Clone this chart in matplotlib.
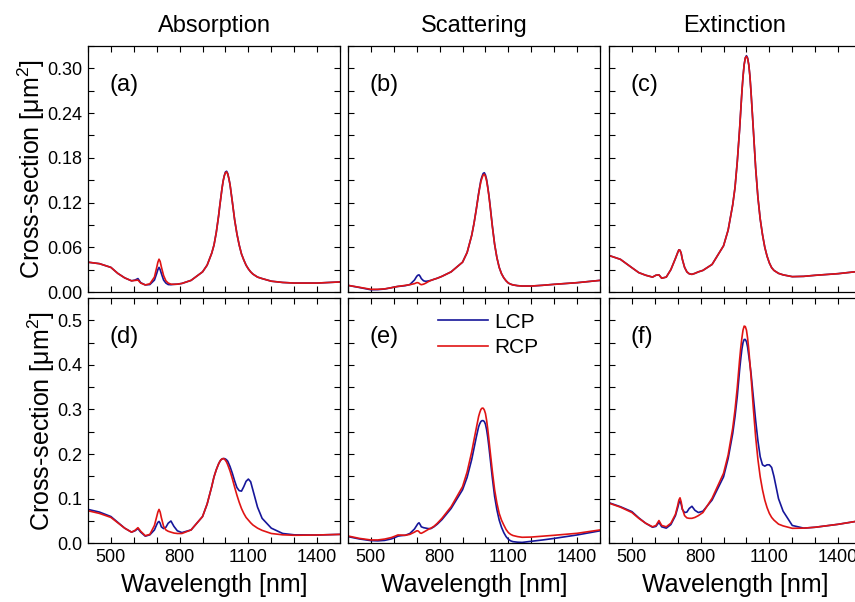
import matplotlib
matplotlib.use("Agg")
import matplotlib.pyplot as plt
from matplotlib.ticker import MultipleLocator

plt.rcParams['font.family'] = ['Liberation Sans', 'DejaVu Sans']
plt.rcParams['mathtext.fontset'] = 'custom'
plt.rcParams['mathtext.rm'] = 'Liberation Sans'

# ---------------- data ----------------
wavelength = [400, 450, 500, 530, 560, 590, 605, 618, 630, 650,
              670, 690, 700, 705, 710, 715, 720, 730, 740, 750,
              762, 775, 790, 810, 850, 900, 920, 940, 950, 960,
              970, 975, 980, 985, 990, 995, 1000, 1005, 1010, 1015,
              1020, 1030, 1040, 1050, 1060, 1070, 1080, 1090, 1100, 1110,
              1120, 1140, 1160, 1200, 1250, 1300, 1400, 1500]

abs1_lcp = [.040, .038, .033, .025, .019, .015, .016, .018, .0125, .0095,
            .010, .016, .025, .030, .033, .030, .025, .016, .012, .010,
            .0098, .0103, .0105, .0115, .0156, .027, .036, .052, .063, .080,
            .102, .115, .127, .139, .149, .156, .161, .162, .159, .152,
            .144, .121, .097, .078, .063, .051, .043, .036, .031, .027,
            .024, .020, .018, .0145, .0128, .012, .012, .0135]
abs1_rcp = [.040, .038, .033, .025, .019, .015, .0155, .016, .012, .0095,
            .011, .020, .033, .040, .044, .041, .034, .022, .015, .012,
            .0105, .0103, .0105, .0115, .0156, .027, .036, .052, .063, .080,
            .102, .115, .127, .139, .149, .156, .160, .161, .158, .152,
            .144, .121, .097, .078, .063, .051, .043, .036, .031, .027,
            .024, .020, .018, .0145, .0128, .012, .012, .0135]

sca1_lcp = [.0089, .0060, .0030, .0032, .0040, .0058, .0068, .0075, .0078, .0085,
            .010, .016, .021, .0225, .023, .021, .018, .015, .0143, .0148,
            .0156, .017, .0185, .021, .027, .040, .053, .076, .092, .111,
            .132, .141, .150, .155, .159, .160, .157, .151, .141, .130,
            .117, .089, .064, .046, .033, .0246, .019, .015, .012, .0105,
            .0095, .0085, .008, .008, .009, .0103, .0125, .0156]
sca1_rcp = [.0089, .0063, .0036, .0036, .0042, .0058, .0068, .0075, .008, .0089,
            .0098, .0112, .0125, .0125, .0118, .0105, .0098, .0105, .012, .0138,
            .0156, .017, .0185, .021, .027, .040, .053, .076, .092, .111,
            .131, .140, .148, .153, .157, .158, .155, .149, .140, .129,
            .116, .088, .064, .046, .033, .0246, .019, .015, .012, .0105,
            .0095, .0085, .008, .008, .009, .0103, .0125, .0156]

ext1_lcp = [.049, .0438, .0326, .026, .0225, .020, .0225, .023, .0185, .020,
            .030, .045, .053, .0565, .056, .052, .044, .033, .027, .0245,
            .0237, .025, .027, .029, .037, .062, .083, .117, .140, .175,
            .218, .243, .268, .289, .305, .314, .317, .314, .305, .290,
            .268, .218, .167, .127, .098, .077, .060, .048, .039, .0326,
            .029, .025, .023, .0206, .021, .0224, .0246, .028]
ext1_rcp = [.049, .0438, .0326, .026, .0225, .020, .0225, .023, .0185, .020,
            .030, .045, .053, .0565, .056, .052, .044, .033, .027, .0245,
            .0237, .025, .027, .029, .037, .062, .083, .117, .140, .175,
            .218, .243, .268, .289, .305, .314, .316, .313, .305, .290,
            .268, .218, .167, .127, .098, .077, .060, .048, .039, .0326,
            .029, .025, .023, .0206, .021, .0224, .0246, .028]

abs2_lcp = [.076, .070, .060, .047, .034, .025, .028, .033, .025, .016,
            .019, .030, .042, .047, .049, .045, .037, .033, .036, .045,
            .050, .038, .028, .024, .030, .060, .088, .127, .149, .165,
            .178, .183, .187, .189, .190, .190, .189, .187, .184, .178,
            .172, .157, .140, .125, .118, .117, .127, .139, .144, .138,
            .119, .081, .056, .034, .022, .019, .0186, .020]
abs2_rcp = [.073, .067, .058, .046, .034, .025, .029, .035, .027, .017,
            .020, .040, .060, .070, .076, .070, .058, .038, .030, .027,
            .025, .023, .022, .022, .030, .060, .088, .127, .149, .165,
            .178, .183, .187, .189, .190, .189, .186, .182, .176, .169,
            .162, .145, .126, .108, .092, .078, .067, .058, .052, .046,
            .041, .034, .029, .022, .019, .018, .0186, .020]

sca2_lcp = [.015, .0097, .006, .0055, .0065, .010, .013, .016, .017, .018,
            .022, .032, .040, .044, .046, .042, .037, .035, .034, .033,
            .033, .037, .043, .053, .078, .120, .148, .188, .213, .238,
            .261, .268, .273, .275, .275, .273, .267, .255, .238, .217,
            .194, .147, .105, .075, .052, .036, .024, .015, .009, .0055,
            .0037, .0025, .002, .0045, .0075, .011, .0187, .028]
sca2_rcp = [.0164, .011, .0075, .0075, .0095, .013, .016, .0187, .0185, .018,
            .020, .025, .028, .028, .026, .023, .0224, .025, .028, .031,
            .034, .038, .045, .056, .082, .127, .160, .205, .232, .258,
            .284, .293, .300, .303, .303, .299, .291, .276, .256, .233,
            .209, .162, .120, .090, .067, .052, .041, .031, .024, .020,
            .0175, .015, .0135, .014, .016, .018, .0224, .030]

ext2_lcp = [.091, .082, .071, .057, .045, .036, .038, .047, .037, .034,
            .042, .062, .080, .090, .095, .088, .076, .069, .070, .078,
            .083, .074, .069, .072, .097, .149, .190, .246, .284, .330,
            .388, .413, .435, .450, .457, .457, .452, .440, .421, .402,
            .381, .328, .276, .230, .194, .176, .173, .176, .176, .170,
            .150, .100, .072, .040, .034, .036, .0426, .051]
ext2_rcp = [.090, .081, .069, .056, .045, .037, .040, .051, .040, .037,
            .045, .065, .085, .097, .102, .093, .078, .062, .057, .056,
            .056, .058, .062, .069, .101, .157, .198, .258, .299, .350,
            .411, .438, .460, .478, .487, .486, .478, .460, .435, .405,
            .374, .303, .239, .188, .149, .120, .097, .080, .067, .058,
            .052, .043, .039, .0336, .034, .036, .0426, .051]

column_titles = ["Absorption", "Scattering", "Extinction"]
panel_labels = ["(a)", "(b)", "(c)", "(d)", "(e)", "(f)"]
series_names = ["LCP", "RCP"]
x_ticks = [500, 800, 1100, 1400]
top_yticks = [0.00, 0.06, 0.12, 0.18, 0.24, 0.30]
bottom_yticks = [0.0, 0.1, 0.2, 0.3, 0.4, 0.5]

panels = [(abs1_lcp, abs1_rcp), (sca1_lcp, sca1_rcp), (ext1_lcp, ext1_rcp),
          (abs2_lcp, abs2_rcp), (sca2_lcp, sca2_rcp), (ext2_lcp, ext2_rcp)]

# ---------------- layout ----------------
W, H = 855, 602
fig = plt.figure(figsize=(W / 100, H / 100), dpi=100)

col_left = [88, 348, 609]
col_w = 252
row_top = [46, 298]
row_h = [246, 245.3]

blue = '#16169a'
red = '#e01414'

for i, (lcp, rcp) in enumerate(panels):
    r, c = divmod(i, 3)
    ax = fig.add_axes([col_left[c] / W, 1 - (row_top[r] + row_h[r]) / H, col_w / W, row_h[r] / H])
    ax.plot(wavelength, lcp, color=blue, lw=1.2, label=series_names[0])
    ax.plot(wavelength, rcp, color=red, lw=1.2, label=series_names[1])
    ax.set_xlim(400, 1500)
    ax.set_xticks(x_ticks)
    ax.xaxis.set_minor_locator(MultipleLocator(100))
    if r == 0:
        ax.set_ylim(0, 0.33)
        ax.set_yticks(top_yticks)
        ax.yaxis.set_minor_locator(MultipleLocator(0.03))
        ax.set_yticklabels([f"{v:.2f}" for v in top_yticks])
        ax.set_xticklabels([])
        ax.set_title(column_titles[c], fontsize=17, pad=10)
    else:
        ax.set_ylim(0, 0.55)
        ax.set_yticks(bottom_yticks)
        ax.yaxis.set_minor_locator(MultipleLocator(0.05))
        ax.set_yticklabels([f"{v:.1f}" for v in bottom_yticks])
        ax.set_xticklabels([str(t) for t in x_ticks])
        ax.set_xlabel("Wavelength [nm]", fontsize=18, labelpad=5)
    if c != 0:
        ax.set_yticklabels([])
    else:
        ax.set_ylabel(r"Cross-section [μm$^{\mathregular{2}}$]", fontsize=18, labelpad=0)
    ax.tick_params(which='both', direction='in', top=True, right=True, labelsize=13, pad=4, width=0.8)
    ax.tick_params(which='major', length=4)
    ax.tick_params(which='minor', length=4)
    for s in ax.spines.values():
        s.set_linewidth(0.9)
    ax.text(0.085, 0.84, panel_labels[i], transform=ax.transAxes, fontsize=17, ha='left', va='center')
    if i == 4:
        ax.legend(loc='upper left', bbox_to_anchor=(0.3, 1.0), frameon=False, fontsize=15,
                  handlelength=2.4, handletextpad=0.3, labelspacing=0.3, borderaxespad=0.3)

fig.savefig("out.png", dpi=100)
